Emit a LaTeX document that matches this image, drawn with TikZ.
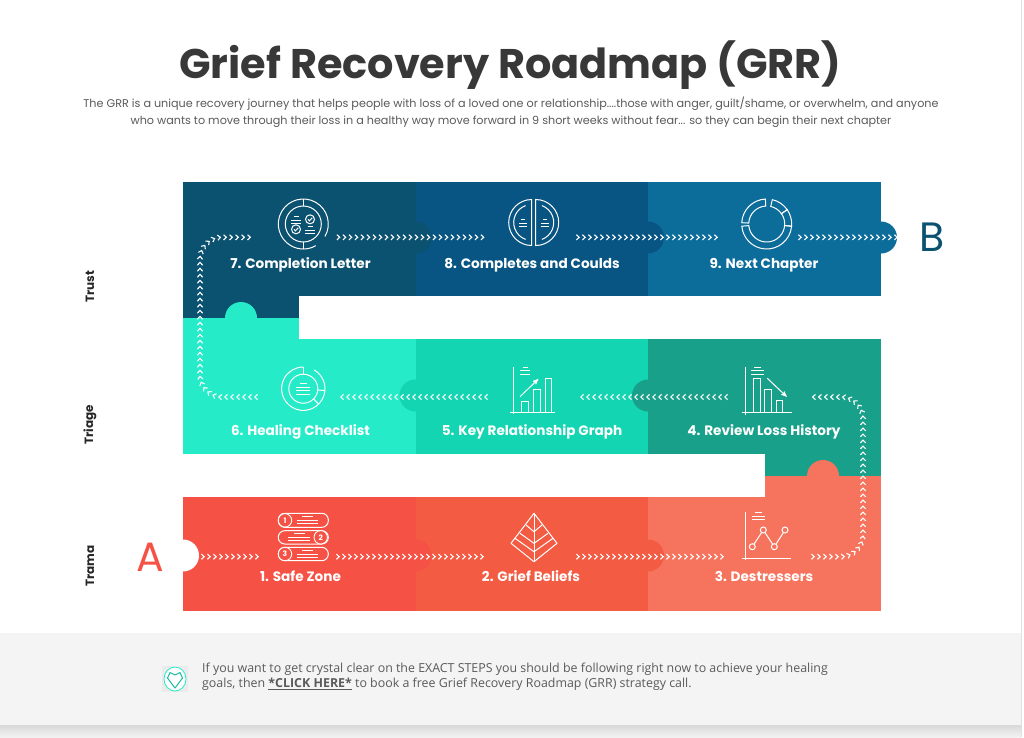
\documentclass[tikz,border=0pt]{standalone}
\usepackage{fontspec}
\usepackage{tikz}
\usetikzlibrary{arrows,positioning,decorations.markings}
\setmainfont{Poppins}
\newfontfamily\footfont{Open Sans}
\definecolor{stepone}{HTML}{F55245}
\definecolor{steptwo}{HTML}{F35B43}
\definecolor{stepthree}{HTML}{F6745D}
\definecolor{stepfour}{HTML}{19A08A}
\definecolor{stepfive}{HTML}{13D5B2}
\definecolor{stepsix}{HTML}{25EBC9}
\definecolor{stepseven}{HTML}{0B5270}
\definecolor{stepeight}{HTML}{085583}
\definecolor{stepnine}{HTML}{0C6C9A}
\definecolor{inkdark}{HTML}{383838}
\definecolor{inkgrey}{HTML}{5A5A5A}
\definecolor{footerbg}{HTML}{F4F4F4}
\newcommand{\textbars}[3]{%
  \draw [iconline] ({#1+0.25*(#2-(#1))},#3+3.4) -- ({#1+0.75*(#2-(#1))},#3+3.4);
  \draw [iconline] (#1,#3) -- (#2,#3);
  \draw [iconline] (#1,#3-3.4) -- (#2,#3-3.4);}
\newcommand{\ringseg}[2]{\draw [iconline] (#1:18) -- (#1:25) arc (#1:#2:25) -- (#2:18) arc (#2:#1:18) -- cycle;}
\newcommand{\chevron}{%
  \pgfsetstrokecolor{white}\pgfsetlinewidth{1.1pt}%
  \pgfpathmoveto{\pgfpoint{-1.6pt}{-2.6pt}}%
  \pgfpathlineto{\pgfpoint{1.2pt}{0pt}}%
  \pgfpathlineto{\pgfpoint{-1.6pt}{2.6pt}}%
  \pgfusepathqstroke}

\begin{document}
\begin{tikzpicture}[x=1pt,y=-1pt,>=stealth']
  \tikzstyle{panel}=[rectangle,draw=none,inner sep=0pt,outer sep=0pt,minimum width=232.67pt,minimum height=114.5pt]
  \tikzstyle{steplabel}=[anchor=base,text=white,inner sep=0pt,font=\fontsize{13.6}{15}\selectfont\bfseries]
  \tikzstyle{sidelabel}=[rotate=90,text=black!85,inner sep=0pt,font=\fontsize{12}{14}\selectfont\bfseries]
  \tikzstyle{iconline}=[draw=white,line width=1pt]
  \tikzstyle{flow}=[rounded corners=22pt,decoration={markings,mark=between positions 0 and 1 step 6pt with {\chevron}},postaction={decorate}]

  \useasboundingbox (0,0) rectangle (1024,737);
  \fill [white] (0,0) rectangle (1024,737);

  % Heading.
  \node [anchor=base,text=inkdark,inner sep=0pt,font=\fontsize{41.4}{46}\selectfont\bfseries] (title) at (510.5,78) {Grief Recovery Roadmap (GRR)};
  \node [anchor=north,text=inkgrey,inner sep=0pt,align=center,font=\fontsize{11.2}{17}\selectfont] (intro) at (511,97) {The GRR is a unique recovery journey that helps people with loss of a loved one or relationship....those with anger, guilt/shame, or overwhelm, and anyone\\who wants to move through their loss in a healthy way move forward in 9 short weeks without fear... so they can begin their next chapter};

  % Top row.
  \node [panel,fill=stepseven] (p7) at (299.33,239) {};
  \node [panel,fill=stepeight] (p8) [right=0pt of p7] {};
  \node [panel,fill=stepnine] (p9) [right=0pt of p8] {};
  \fill [stepseven] (183,296) rectangle (299,318);
  \fill [stepseven] (415.5,237.5) circle (16);
  \fill [stepeight] (648,237.5) circle (16);
  \fill [stepnine] (881,237.5) circle (16);

  % Middle row.
  \node [panel,fill=stepsix] (p6) at (299.33,396.5) {};
  \node [panel,fill=stepfive] (p5) [right=0pt of p6] {};
  \node [panel,fill=stepfour] (p4) [right=0pt of p5] {};
  \fill [stepsix] (183,318) rectangle (299,340);
  \fill [stepsix] (241,318) circle (16);
  \fill [stepfive] (415.5,395.5) circle (16);
  \fill [stepfour] (648,395.5) circle (16);
  \fill [stepfour] (765,453) rectangle (881,476);

  % Bottom row.
  \node [panel,fill=stepone] (p1) at (299.33,554) {};
  \node [panel,fill=steptwo] (p2) [right=0pt of p1] {};
  \node [panel,fill=stepthree] (p3) [right=0pt of p2] {};
  \fill [stepthree] (765,476) rectangle (881,498);
  \fill [stepthree] (823,476) circle (16);
  \fill [stepone] (415.5,555.5) circle (16);
  \fill [steptwo] (648,555.5) circle (16);
  \fill [white] (183,555.5) circle (16);

  % Step names.
  \node [steplabel] (l1) at (300.5,581) {1. Safe Zone};
  \node [steplabel] (l2) at (531,581) {2. Grief Beliefs};
  \node [steplabel] (l3) at (764,581) {3. Destressers};
  \node [steplabel] (l4) at (764,435) {4. Review Loss History};
  \node [steplabel] (l5) at (532,435) {5. Key Relationship Graph};
  \node [steplabel] (l6) at (300.5,435) {6. Healing Checklist};
  \node [steplabel] (l7) at (300.5,268) {7. Completion Letter};
  \node [steplabel] (l8) at (532,268) {8. Completes and Coulds};
  \node [steplabel] (l9) at (764,268) {9. Next Chapter};

  \node [sidelabel] (trust) at (90,287) {Trust};
  \node [sidelabel] (triage) at (90,425) {Triage};
  \node [sidelabel] (trama) at (90,566) {Trama};
  \node [text=stepone,inner sep=0pt,font=\fontsize{41}{45}\selectfont] (a) at (150,557) {A};
  \node [text=stepseven,inner sep=0pt,font=\fontsize{41}{45}\selectfont] (b) at (932,237) {B};

  % Ends of the chevron runs.
  \coordinate (o0) at (203,556.7);   \coordinate (i1) at (262,556.7);
  \coordinate (o1) at (338,556.7);   \coordinate (i2) at (483,556.7);
  \coordinate (o2) at (578,556.7);   \coordinate (i3) at (722,556.7);
  \coordinate (o3) at (813,556.7);   \coordinate (i4) at (810,397);
  \coordinate (o4) at (726,397);     \coordinate (i5) at (581.5,397);
  \coordinate (o5) at (486,397);     \coordinate (i6) at (341.5,397);
  \coordinate (o6) at (256,397);     \coordinate (i7) at (254,237.3);
  \coordinate (o7) at (338.5,237.3); \coordinate (i8) at (483,237.3);
  \coordinate (o8) at (578,237.3);   \coordinate (i9) at (716,237.3);
  \coordinate (o9) at (800,237.3);   \coordinate (end) at (897,237.3);
  \coordinate (railright) at (863,476);
  \coordinate (railleft) at (200,318);

  \path [flow] (o0) -- (i1);
  \path [flow] (o1) -- (i2);
  \path [flow] (o2) -- (i3);
  \path [flow] (o3) -| (railright) |- (i4);
  \path [flow] (o4) -- (i5);
  \path [flow] (o5) -- (i6);
  \path [flow] (o6) -| (railleft) |- (i7);
  \path [flow] (o7) -- (i8);
  \path [flow] (o8) -- (i9);
  \path [flow] (o9) -- (end);

  % Safe Zone icon.
  \begin{scope}[shift={(303.3,537)},y=1pt]
    \draw [iconline,rounded corners=6.5pt] (-25,23.7) rectangle (25,9.7);
    \draw [iconline,rounded corners=6.5pt] (-25,6.3) rectangle (25,-7);
    \draw [iconline,rounded corners=6.5pt] (-25,-10.3) rectangle (25,-23.7);
    \node [circle,draw=white,line width=0.9pt,fill=stepone,text=white,inner sep=0pt,minimum size=13.4pt,font=\fontsize{7.5}{8}\selectfont\bfseries] (n1) at (-18.3,16.7) {1};
    \node [circle,draw=white,line width=0.9pt,fill=stepone,text=white,inner sep=0pt,minimum size=13.4pt,font=\fontsize{7.5}{8}\selectfont\bfseries] (n2) at (17.4,-0.3) {2};
    \node [circle,draw=white,line width=0.9pt,fill=stepone,text=white,inner sep=0pt,minimum size=13.4pt,font=\fontsize{7.5}{8}\selectfont\bfseries] (n3) at (-18.3,-17) {3};
    \textbars{-6.7}{14.7}{16.9}
    \textbars{-15}{6.7}{-0.2}
    \textbars{-6.7}{14.7}{-17}
  \end{scope}

  % Grief Beliefs icon.
  \begin{scope}[shift={(534,537)},y=1pt]
    \draw [iconline,line join=round] (0,23.7) -- (23,-6.3) -- (0,-24.7) -- (-23,-6.3) -- cycle;
    \draw [iconline] (0,23.7) -- (0,-24.7);
    \draw [iconline] (-8,12) -- (0,5.3) -- (8,12);
    \draw [iconline] (-14,3.7) -- (0,-6.3) -- (14,3.7);
    \draw [iconline] (-19,-1.3) -- (0,-14.7) -- (19,-1.3);
  \end{scope}

  % Destressers icon.
  \begin{scope}[shift={(767,535)},y=1pt]
    \draw [iconline] (-22,23.3) -- (-22,-25);
    \draw [iconline] (-25.3,-23.3) -- (24,-23.3);
    \textbars{-15}{-2}{19}
    \draw [iconline] (-14.7,-11.7) -- (-3.7,5) -- (7.3,-11.7) -- (18,5);
    \foreach \px/\py in {-14.7/-11.7,-3.7/5,7.3/-11.7,18/5}
      \filldraw [iconline,fill=stepthree] (\px,\py) circle (3);
  \end{scope}

  % Review Loss History icon.
  \begin{scope}[shift={(767,390)},y=1pt]
    \draw [iconline] (-22,23) -- (-22,-25);
    \draw [iconline] (-25.3,-22.3) -- (24.7,-22.3);
    \textbars{-16}{-3}{19.3}
    \draw [iconline] (-13.7,-22.3) rectangle (-7,11.7);
    \draw [iconline] (-2.7,-22.3) rectangle (4,0.7);
    \draw [iconline] (9,-22.3) rectangle (15.7,-10.7);
    \draw [iconline,->] (0.3,11.7) -- (19.7,-6.7);
  \end{scope}

  % Key Relationship Graph icon.
  \begin{scope}[shift={(530,390)},y=1pt]
    \draw [iconline] (-16.7,23) -- (-16.7,-24);
    \draw [iconline] (-20,-22.3) -- (25,-22.3);
    \textbars{-10}{0}{19.3}
    \draw [iconline] (-8.3,-22.3) rectangle (-1.7,-11);
    \draw [iconline] (3,-22.3) rectangle (10,0.7);
    \draw [iconline] (15,-22.3) rectangle (21.7,11.7);
    \draw [iconline,->] (-10,-6.7) -- (8.3,11);
  \end{scope}

  % Healing Checklist icon.
  \begin{scope}[shift={(303.3,388.7)},y=1pt]
    \draw [iconline] (60:21.7) arc (60:-270:21.7);
    \draw [iconline] (0,0) circle (14.5);
    \foreach \ang in {90,-5,-45}
      \draw [iconline] (\ang:14.5) -- (\ang:21.7);
    \textbars{-7}{7}{1.5}
    \draw [iconline] (-7,-5.3) -- (7,-5.3);
  \end{scope}

  % Completion Letter icon.
  \begin{scope}[shift={(303.3,224)},y=1pt]
    \draw [iconline] (-30:25) arc (-30:300:25);
    \draw [iconline] (0,0) circle (18);
    \draw [iconline] (0,18) -- (0,25);
    \draw [iconline] (0,-18) -- (0,-25);
    \draw [iconline] (6.7,4.7) circle (4.5);
    \draw [iconline] (-7.3,-5.3) circle (4.5);
    \draw [iconline] (4.7,4.7) -- (6.2,3.2) -- (9,6.2);
    \draw [iconline] (-9.3,-5.3) -- (-7.8,-6.8) -- (-5,-3.8);
    \textbars{-12}{-2}{4}
    \textbars{1.7}{11.7}{-6}
  \end{scope}

  % Completes and Coulds icon.
  \begin{scope}[shift={(533.7,222.5)},y=1pt]
    \draw [iconline] (-2,23) arc (90:270:23) -- cycle;
    \draw [iconline] (2,-23) arc (-90:90:23) -- cycle;
    \draw [iconline] (-2,0) ++(110:18) arc (110:250:18);
    \draw [iconline] (2,0) ++(-70:18) arc (-70:70:18);
    \textbars{-15}{-7}{-0.5}
    \textbars{7}{15}{-0.5}
  \end{scope}

  % Next Chapter icon.
  \begin{scope}[shift={(766.7,224)},y=1pt]
    \ringseg{177}{93}
    \ringseg{77}{35}
    \ringseg{35}{-5}
    \ringseg{-5}{-175}
  \end{scope}

  % Footer band.
  \shade [top color=black!15,bottom color=black!5] (0,725) rectangle (1021,737);
  \fill [footerbg] (0,633) rectangle (1021,725);
  \fill [black!12] (1021,0) rectangle (1022,737);
  \fill [black!8] (162,666) rectangle (188,692);
  \filldraw [draw=stepsix,fill=white,line width=0.8pt] (175,679) ellipse (11 and 12);
  \draw [stepsix!80!black,line width=1pt,line join=round] (175,688) -- (167.5,678) -- (170,672.5) -- (175,675) -- (180,672.5) -- (182.5,678) -- cycle;
  \node [anchor=north west,text=inkgrey,inner sep=0pt,align=left,font=\footfont\fontsize{12.4}{15}\selectfont] (call) at (202,662.5) {If you want to get crystal clear on the EXACT STEPS you should be following right now to achieve your healing\\goals, then \underline{\textbf{*CLICK HERE*}} to book a free Grief Recovery Roadmap (GRR) strategy call.};
\end{tikzpicture}
\end{document}
